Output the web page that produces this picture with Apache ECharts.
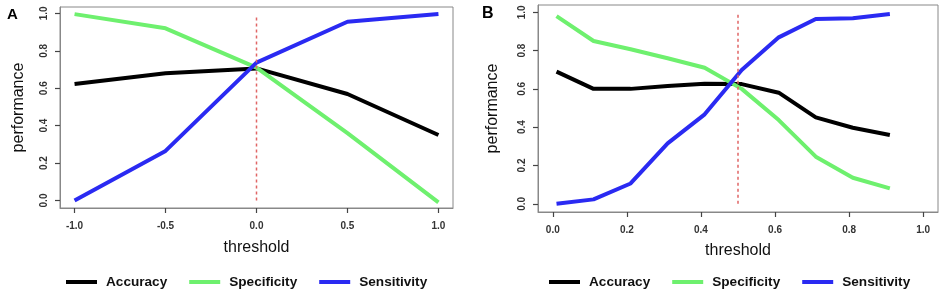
<!DOCTYPE html>
<html>
<head>
<meta charset="utf-8">
<script src="https://cdn.jsdelivr.net/npm/echarts@6/dist/echarts.min.js"></script>
<style>
  html, body { margin: 0; padding: 0; background: #fff; }
  #chart { width: 944px; height: 293px; }
</style>
</head>
<body>
<div id="chart"></div>
<script>
// === Datos panel A ===========================================================
const thrA  = [-1.0, -0.5, 0.0, 0.5, 1.0];
const accA  = [0.623, 0.680, 0.706, 0.569, 0.350];
const specA = [0.996, 0.920, 0.710, 0.360, -0.010];
const sensA = [0.000, 0.265, 0.737, 0.955, 0.996];
const cutA  = 0.0;

// === Datos panel B ===========================================================
const thrB  = [0.01, 0.11, 0.21, 0.31, 0.41, 0.51, 0.61, 0.71, 0.81, 0.91];
const accB  = [0.690, 0.600, 0.600, 0.615, 0.627, 0.625, 0.580, 0.451, 0.397, 0.359];
const specB = [0.980, 0.850, 0.807, 0.760, 0.710, 0.600, 0.437, 0.246, 0.136, 0.080];
const sensB = [0.000, 0.023, 0.106, 0.315, 0.467, 0.699, 0.869, 0.965, 0.969, 0.991];
const cutB  = 0.5;

// === Ticks ===================================================================
const ticksY  = [0.0, 0.2, 0.4, 0.6, 0.8, 1.0];
const ticksXA = [-1.0, -0.5, 0.0, 0.5, 1.0];
const ticksXB = [0.0, 0.2, 0.4, 0.6, 0.8, 1.0];
const cutSpan = [0.0, 0.99];
const names   = ['Accuracy', 'Specificity', 'Sensitivity'];

// === Paleta ==================================================================
const FONT = '"Liberation Sans", Arial, sans-serif';
const colors = { Accuracy: '#000000', Specificity: '#6ef06e', Sensitivity: '#2a2af2' };
const red = '#e06666', frame = '#888888', tick = '#444444';

const pair = (xs, ys) => xs.map((x, i) => [x, ys[i]]);

// === Ejes ====================================================================
// el eje se dibuja encima del marco (mismo color), los ticks salen hacia afuera
function axisX(idx, min, max, ticks, gap) {
  return {
    type: 'value', gridIndex: idx, min, max,
    name: 'threshold', nameLocation: 'middle', nameGap: gap,
    nameTextStyle: { fontFamily: FONT, fontSize: 16, color: '#111' },
    axisLine: { show: true, onZero: false, lineStyle: { color: frame, width: 1 } },
    axisTick: { show: true, length: 5, lineStyle: { color: tick, width: 1.2 }, customValues: ticks },
    axisLabel: { fontFamily: FONT, fontSize: 10, fontWeight: 'bold', color: '#333', margin: 13,
                 customValues: ticks, formatter: v => v.toFixed(1) },
    splitLine: { show: false }
  };
}
function axisY(idx, min, max, gap) {
  return {
    type: 'value', gridIndex: idx, min, max,
    name: 'performance', nameLocation: 'middle', nameGap: gap, nameRotate: 90,
    nameTextStyle: { fontFamily: FONT, fontSize: 16, color: '#111' },
    axisLine: { show: true, onZero: false, lineStyle: { color: frame, width: 1 } },
    axisTick: { show: true, length: 5, lineStyle: { color: tick, width: 1.2 }, customValues: ticksY },
    axisLabel: { fontFamily: FONT, fontSize: 10, fontWeight: 'bold', color: '#333', margin: 11, rotate: 90,
                 customValues: ticksY, formatter: v => v.toFixed(1) },
    splitLine: { show: false }
  };
}

// === Series ==================================================================
function lines(idx, xs, acc, spec, sens, cut) {
  const mk = (name, ys) => ({
    name, type: 'line', xAxisIndex: idx, yAxisIndex: idx,
    data: pair(xs, ys), symbol: 'none', silent: true,
    lineStyle: { width: 4, color: colors[name] }, itemStyle: { color: colors[name] }
  });
  return [
    mk('Accuracy', acc), mk('Specificity', spec), mk('Sensitivity', sens),
    { type: 'line', xAxisIndex: idx, yAxisIndex: idx, symbol: 'none', silent: true,
      data: cutSpan.map(y => [cut, y]),
      lineStyle: { width: 1.5, color: red, type: [3, 3] } }
  ];
}

function legend(left) {
  return {
    left, top: 275, padding: 0, data: names, icon: 'rect', itemWidth: 31, itemHeight: 4, itemGap: 22,
    selectedMode: false,
    textStyle: { fontFamily: FONT, fontSize: 13.6, fontWeight: 'bold', color: '#111', padding: [0, 0, 0, 4] }
  };
}

const option = {
  animation: false,
  title: [
    { text: 'A', left: 2, top: 2, textStyle: { fontFamily: FONT, fontSize: 15, fontWeight: 'bold', color: '#000' } },
    { text: 'B', left: 477, top: 1, textStyle: { fontFamily: FONT, fontSize: 16, fontWeight: 'bold', color: '#000' } }
  ],
  grid: [
    { left: 60, top: 7, width: 393, height: 201, show: true, borderColor: frame, borderWidth: 1 },
    { left: 538, top: 5, width: 400, height: 207, show: true, borderColor: frame, borderWidth: 1 }
  ],
  xAxis: [axisX(0, -1.08, 1.08, ticksXA, 32), axisX(1, -0.04, 1.04, ticksXB, 31)],
  yAxis: [axisY(0, -0.04, 1.034, 33), axisY(1, -0.043, 1.038, 37)],
  legend: [legend(66), legend(549)],
  series: [
    ...lines(0, thrA, accA, specA, sensA, cutA),
    ...lines(1, thrB, accB, specB, sensB, cutB)
  ]
};

echarts.init(document.getElementById('chart')).setOption(option);
</script>
</body>
</html>
